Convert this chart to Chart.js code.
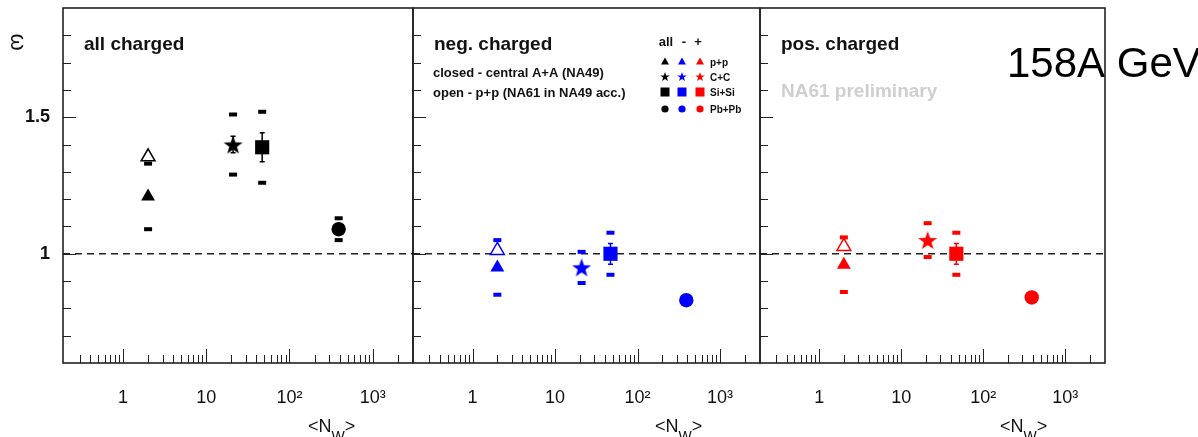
<!DOCTYPE html>
<html>
<head>
<meta charset="utf-8">
<script src="https://cdn.jsdelivr.net/npm/chart.js@4.4.0/dist/chart.umd.min.js"></script>
<style>
  body { margin: 0; background: #fff; }
  #wrap { position: relative; width: 1198px; height: 437px; }
  #wrap canvas { position: absolute; left: 0; top: 0; }
</style>
</head>
<body>
<div id="wrap">
  <canvas id="pAll" width="1198" height="437"></canvas>
  <canvas id="pNeg" width="1198" height="437"></canvas>
  <canvas id="pPos" width="1198" height="437"></canvas>
</div>
<script>
// systems and their <N_W>
const systems = ['p+p', 'C+C', 'Si+Si', 'Pb+Pb'];
const nW = [2, 21, 47, 390];

// closed symbols: NA49 (p+p and central A+A)
const omegaAll = [1.21, 1.40, 1.39, 1.09];
const omegaNeg = [0.95, 0.95, 1.00, 0.83];
const omegaPos = [0.96, 1.05, 1.00, 0.84];
const statAll = [0, 0.03, 0.053, 0];
const statNeg = [0, 0, 0.038, 0];
const statPos = [0, 0, 0.038, 0];
const sysAll = [0.12, 0.11, 0.13, 0.04];
const sysNeg = [0.10, 0.057, 0.077, 0];
const sysPos = [0.10, 0.062, 0.077, 0];

// open triangle: NA61 p+p in NA49 acceptance (all, neg, pos)
const nWna61 = 2;
const omegaNA61 = [1.355, 1.012, 1.027];

// axes
const xMin = 0.19, xMax = 3050;
const yMin = 0.6, yMax = 1.9;
const xLabelValues = [1, 10, 100, 1000];
const xLabelText = ['1', '10', '10²', '10³'];
const yLabelValues = [1, 1.5];
const yLabelText = ['1', '1.5'];

const FONT = '"Liberation Sans", Arial, sans-serif';
Chart.defaults.font.family = FONT;
Chart.defaults.color = '#111';

// minor tick marks on the log axis (0.3 ... 2000)
const xTickVals = [];
for (let d = 0.1; d < 5000; d *= 10) {
  for (let m = 1; m < 10; m++) {
    const v = +(m * d).toPrecision(3);
    if (v >= 0.3 && v <= 2000) xTickVals.push(v);
  }
}

function starPath(g, cx, cy, r) {
  g.beginPath();
  for (let i = 0; i < 10; i++) {
    const rr = i % 2 ? r * 0.4 : r;
    const a = -Math.PI / 2 + i * Math.PI / 5;
    g.lineTo(cx + rr * Math.cos(a), cy + rr * Math.sin(a));
  }
  g.closePath();
}

function starCanvas(color, r) {
  const c = document.createElement('canvas');
  const s = Math.ceil(r * 2 + 2);
  c.width = c.height = s;
  const g = c.getContext('2d');
  starPath(g, s / 2, s / 2 + r * 0.1, r);
  g.fillStyle = color;
  g.fill();
  return c;
}

const isDecade = v => Math.abs(Math.log10(v) - Math.round(Math.log10(v))) < 1e-9;
const near = (a, b) => Math.abs(a - b) < 1e-6;

const panels = [
  { id: 'pAll', left: 63, right: 413, color: '#000000', title: 'all charged',
    omega: omegaAll, stat: statAll, sys: sysAll, na61: omegaNA61[0], yLabels: true },
  { id: 'pNeg', left: 413, right: 760, color: '#0000ff', title: 'neg. charged',
    omega: omegaNeg, stat: statNeg, sys: sysNeg, na61: omegaNA61[1], yLabels: false },
  { id: 'pPos', left: 760, right: 1105, color: '#ff0000', title: 'pos. charged',
    omega: omegaPos, stat: statPos, sys: sysPos, na61: omegaNA61[2], yLabels: false }
];

// legend in the middle panel
function drawLegend(ctx) {
  const cols = [665, 682, 700];
  const colColors = ['#000000', '#0000ff', '#ff0000'];
  const rows = [62, 77, 92, 109];
  ctx.save();
  ctx.fillStyle = '#111';
  ctx.font = 'bold 13px ' + FONT;
  ctx.textAlign = 'center';
  ctx.textBaseline = 'alphabetic';
  ctx.fillText('all', 666, 46);
  ctx.fillText('-', 684, 46);
  ctx.fillText('+', 698, 46);
  cols.forEach((cx, c) => {
    ctx.fillStyle = colColors[c];
    rows.forEach((cy, r) => {
      if (r === 0) {
        ctx.beginPath();
        ctx.moveTo(cx, cy - 4.5);
        ctx.lineTo(cx + 4, cy + 2.5);
        ctx.lineTo(cx - 4, cy + 2.5);
        ctx.closePath();
        ctx.fill();
      } else if (r === 1) {
        starPath(ctx, cx, cy, 5);
        ctx.fill();
      } else if (r === 2) {
        ctx.fillRect(cx - 4.5, cy - 4.5, 9, 9);
      } else {
        ctx.beginPath();
        ctx.arc(cx, cy, 3.6, 0, Math.PI * 2);
        ctx.fill();
      }
    });
  });
  ctx.fillStyle = '#111';
  ctx.font = 'bold 10px ' + FONT;
  ctx.textAlign = 'left';
  ctx.textBaseline = 'middle';
  systems.forEach((s, i) => ctx.fillText(s, 710, rows[i] + 1));
  ctx.restore();
}

function decor(p, idx) {
  return {
    id: 'decor' + idx,
    beforeDraw(chart) {
      const ctx = chart.ctx;
      if (idx === 2) {
        ctx.save();
        ctx.fillStyle = '#000';
        ctx.font = '42px ' + FONT;
        ctx.textAlign = 'left';
        ctx.textBaseline = 'alphabetic';
        ctx.fillText('158A GeV', 1007, 77);
        ctx.restore();
      }
    },
    beforeDatasetsDraw(chart) {
      const ctx = chart.ctx;
      const a = chart.chartArea;
      const y1 = chart.scales.y.getPixelForValue(1);
      ctx.save();
      ctx.strokeStyle = '#222';
      ctx.lineWidth = 1.5;
      ctx.setLineDash([7, 5]);
      ctx.beginPath();
      ctx.moveTo(a.left, y1);
      ctx.lineTo(a.right, y1);
      ctx.stroke();
      ctx.restore();
    },
    afterDatasetsDraw(chart) {
      const ctx = chart.ctx;
      const ys = chart.scales.y;
      const meta = chart.getDatasetMeta(0);
      ctx.save();
      ctx.strokeStyle = p.color;
      ctx.lineWidth = 1.5;
      p.stat.forEach((e, i) => {
        if (!e) return;
        const px = meta.data[i].x;
        const yt = ys.getPixelForValue(p.omega[i] + e);
        const yb = ys.getPixelForValue(p.omega[i] - e);
        ctx.beginPath();
        ctx.moveTo(px, yt); ctx.lineTo(px, yb);
        ctx.moveTo(px - 2.5, yt); ctx.lineTo(px + 2.5, yt);
        ctx.moveTo(px - 2.5, yb); ctx.lineTo(px + 2.5, yb);
        ctx.stroke();
      });
      ctx.restore();
    },
    afterDraw(chart) {
      const ctx = chart.ctx;
      const a = chart.chartArea;
      const xs = chart.scales.x, ys = chart.scales.y;
      ctx.save();
      // inward tick marks
      ctx.strokeStyle = '#222';
      ctx.lineWidth = 1;
      ctx.beginPath();
      xs.ticks.forEach(t => {
        const px = Math.round(xs.getPixelForValue(t.value)) + 0.5;
        ctx.moveTo(px, a.bottom);
        ctx.lineTo(px, a.bottom - (isDecade(t.value) ? 14 : 8));
      });
      ys.ticks.forEach(t => {
        if (t.value <= yMin + 1e-6 || t.value >= yMax - 1e-6) return;
        const py = Math.round(ys.getPixelForValue(t.value)) + 0.5;
        const major = yLabelValues.some(v => near(v, t.value));
        ctx.moveTo(a.left, py);
        ctx.lineTo(a.left + (major ? 13 : 8), py);
      });
      ctx.stroke();
      // frame
      ctx.lineWidth = 1.6;
      ctx.strokeRect(a.left, a.top, a.right - a.left, a.bottom - a.top);

      // panel title
      ctx.fillStyle = '#111';
      ctx.font = 'bold 19px ' + FONT;
      ctx.textAlign = 'left';
      ctx.textBaseline = 'alphabetic';
      ctx.fillText(p.title, a.left + 21, 50);

      // x axis title <N_W>
      const tx = a.right - 105;
      ctx.font = '18px ' + FONT;
      ctx.fillText('<N', tx, 432);
      const w1 = ctx.measureText('<N').width;
      ctx.font = '14px ' + FONT;
      ctx.fillText('W', tx + w1, 441);
      const w2 = ctx.measureText('W').width;
      ctx.font = '18px ' + FONT;
      ctx.fillText('>', tx + w1 + w2, 432);

      if (idx === 0) {
        // y axis title omega
        ctx.save();
        ctx.translate(17, 42);
        ctx.rotate(Math.PI / 2);
        ctx.font = '22px ' + FONT;
        ctx.textAlign = 'center';
        ctx.textBaseline = 'middle';
        ctx.fillText('ω', 0, 0);
        ctx.restore();
      }
      if (idx === 1) {
        ctx.font = 'bold 13px ' + FONT;
        ctx.fillText('closed - central A+A (NA49)', a.left + 20, 77);
        ctx.fillText('open - p+p (NA61 in NA49 acc.)', a.left + 20, 97);
        drawLegend(ctx);
      }
      if (idx === 2) {
        ctx.fillStyle = '#cfcfcf';
        ctx.font = 'bold 19px ' + FONT;
        ctx.fillText('NA61 preliminary', a.left + 21, 97);
      }
      ctx.restore();
    }
  };
}

panels.forEach((p, idx) => {
  const closed = nW.map((x, i) => ({ x: x, y: p.omega[i] }));
  const sysMarks = [];
  nW.forEach((x, i) => {
    if (p.sys[i] > 0) {
      sysMarks.push({ x: x, y: p.omega[i] + p.sys[i] });
      sysMarks.push({ x: x, y: p.omega[i] - p.sys[i] });
    }
  });
  const yWidth = p.yLabels ? p.left : 0;

  new Chart(document.getElementById(p.id), {
    type: 'scatter',
    data: {
      datasets: [
        {
          data: closed,
          pointStyle: ['triangle', starCanvas(p.color, 10), 'rect', 'circle'],
          pointRadius: [8, 10, 10, 7.2],
          pointBackgroundColor: p.color,
          pointBorderColor: p.color,
          pointBorderWidth: 0
        },
        {
          data: sysMarks,
          pointStyle: 'line',
          pointRadius: 4,
          pointBorderWidth: 4,
          pointBorderColor: p.color
        },
        {
          data: [{ x: nWna61, y: p.na61 }],
          pointStyle: 'triangle',
          pointRadius: 8,
          pointBackgroundColor: '#ffffff',
          pointBorderColor: p.color,
          pointBorderWidth: 1.5
        }
      ]
    },
    options: {
      responsive: false,
      animation: false,
      events: [],
      devicePixelRatio: 1,
      layout: {
        autoPadding: false,
        padding: { left: p.left - yWidth, right: 1198 - p.right, top: 8, bottom: 0 }
      },
      plugins: { legend: { display: false }, tooltip: { enabled: false } },
      scales: {
        x: {
          type: 'logarithmic',
          min: xMin,
          max: xMax,
          grid: { display: false },
          border: { display: false },
          afterFit: s => { s.height = 74; s.paddingLeft = 0; s.paddingRight = 0; },
          afterBuildTicks: s => { s.ticks = xTickVals.map(v => ({ value: v })); },
          ticks: {
            autoSkip: false,
            maxRotation: 0,
            padding: 16,
            font: { size: 18 },
            color: '#111',
            callback: v => {
              const k = xLabelValues.findIndex(d => near(d, v));
              return k >= 0 ? xLabelText[k] : '';
            }
          }
        },
        y: {
          min: yMin,
          max: yMax,
          grid: { display: false },
          border: { display: false },
          afterFit: s => { s.width = yWidth; s.paddingTop = 0; s.paddingBottom = 0; },
          ticks: {
            display: p.yLabels,
            stepSize: 0.1,
            padding: 5,
            font: { size: 18, weight: 'bold' },
            color: '#111',
            callback: v => {
              const k = yLabelValues.findIndex(d => near(d, v));
              return k >= 0 ? yLabelText[k] : '';
            }
          }
        }
      }
    },
    plugins: [decor(p, idx)]
  });
});
</script>
</body>
</html>
